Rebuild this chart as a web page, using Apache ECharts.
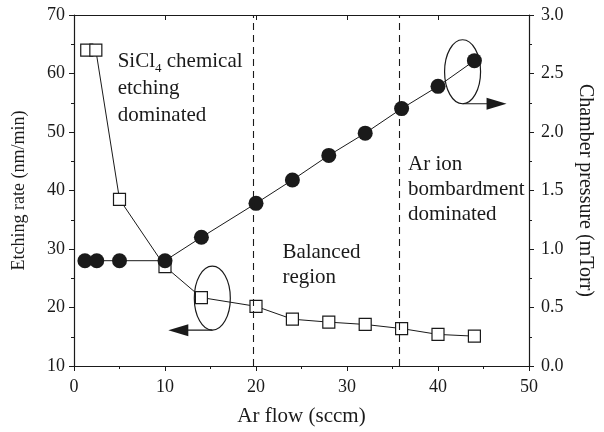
<!DOCTYPE html>
<html lang="en">
<head>
    <meta charset="UTF-8">
    <title>Etching rate and chamber pressure vs Ar flow</title>
    <script src="https://cdn.jsdelivr.net/npm/echarts@6.0.0/dist/echarts.min.js"></script>
    <style>
        html, body { margin: 0; padding: 0; background: #fff; }
    </style>
</head>
<body>
<div id="chart1" style="width: 604px;height:432px;"></div>

<script>
    // values
    var etchFlow = [1.4, 2.4, 5, 10, 14, 20, 24, 28, 32, 36, 40, 44];
    var etchRate = [64, 64, 38.5, 27, 21.7, 20.2, 18, 17.5, 17.1, 16.4, 15.4, 15.1];
    var pressFlow = [1.2, 2.5, 5, 10, 14, 20, 24, 28, 32, 36, 40, 44];
    var pressure = [0.9, 0.9, 0.9, 0.9, 1.1, 1.39, 1.59, 1.8, 1.99, 2.2, 2.39, 2.61];
    var regionBounds = [19.7, 35.7];

    var font = 'Liberation Serif';
    var ink = '#1a1a1a';

    var chartDom = document.getElementById('chart1');
    var myChart = echarts.init(chartDom);

    function axisBase() {
        return {
            type: 'value',
            axisLine: { show: true, onZero: false, lineStyle: { color: ink, width: 1.2 } },
            axisTick: { show: true, inside: false, length: 5, lineStyle: { color: ink } },
            minorTick: { show: true, splitNumber: 2, length: 3, lineStyle: { color: ink } },
            splitLine: { show: false },
            axisLabel: { fontFamily: font, fontSize: 18, color: ink, margin: 9 },
            nameTextStyle: { fontFamily: font, fontSize: 19, color: ink }
        };
    }

    var xBottom = Object.assign(axisBase(), {
        position: 'bottom', min: 0, max: 50, interval: 10,
        name: 'Ar flow (sccm)', nameLocation: 'middle', nameGap: 40
    });
    xBottom.axisLabel.margin = 12;
    xBottom.nameTextStyle.fontSize = 21;
    var xTop = Object.assign(axisBase(), {
        position: 'top', min: 0, max: 50, interval: 10
    });
    xTop.axisLabel = { show: false };
    xTop.axisTick = { show: true, inside: true, length: 5, lineStyle: { color: ink } };
    xTop.minorTick = { show: false };

    var yLeft = Object.assign(axisBase(), {
        position: 'left', min: 10, max: 70, interval: 10,
        name: 'Etching rate (nm/min)', nameLocation: 'middle', nameGap: 46
    });
    yLeft.nameTextStyle.fontSize = 18;
    var yRight = Object.assign(axisBase(), {
        position: 'right', min: 0, max: 3, interval: 0.5,
        name: 'Chamber pressure (mTorr)', nameLocation: 'middle', nameGap: 46,
        nameRotate: -90
    });
    yRight.axisLabel.margin = 12;
    yRight.nameTextStyle.fontSize = 20;
    yRight.axisLabel.formatter = function (v) { return v.toFixed(1); };

    var option = {
        backgroundColor: '#fff',
        animation: false,
        grid: { left: 74, right: 75, top: 15, bottom: 66 },
        xAxis: [xBottom, xTop],
        yAxis: [yLeft, yRight],
        series: [
            {
                name: 'Etching rate',
                type: 'line',
                xAxisIndex: 0,
                yAxisIndex: 0,
                data: etchFlow.map(function (x, i) { return [x, etchRate[i]]; }),
                symbol: 'rect',
                symbolSize: 12,
                lineStyle: { color: ink, width: 1 },
                itemStyle: { color: '#fff', borderColor: ink, borderWidth: 1.2 },
                z: 3,
                markLine: {
                    silent: true,
                    symbol: 'none',
                    label: { show: false },
                    lineStyle: { color: ink, type: [7, 5], width: 1.1 },
                    data: regionBounds.map(function (x) { return { xAxis: x }; })
                }
            },
            {
                name: 'Chamber pressure',
                type: 'line',
                xAxisIndex: 0,
                yAxisIndex: 1,
                data: pressFlow.map(function (x, i) { return [x, pressure[i]]; }),
                symbol: 'circle',
                symbolSize: 15,
                lineStyle: { color: ink, width: 1 },
                itemStyle: { color: ink },
                z: 4
            }
        ]
    };
    myChart.setOption(option);

    // annotations, anchored in data coordinates (left axis)
    function px(x, y) {
        return myChart.convertToPixel({ xAxisIndex: 0, yAxisIndex: 0 }, [x, y]);
    }
    var textStyleBase = { fontFamily: font, fontSize: 21, fill: ink };

    function note(x, y, text, lh) {
        var p = px(x, y);
        return {
            type: 'text', x: p[0], y: p[1], z: 10,
            style: Object.assign({}, textStyleBase, {
                text: text, lineHeight: lh, verticalAlign: 'top',
                rich: {
                    sub: { fontFamily: font, fontSize: 13, fill: ink, verticalAlign: 'bottom', padding: [10, 0, 0, 0] }
                }
            })
        };
    }

    function pointer(cx, cy, dir) {
        var c = px(cx, cy);
        var rx = 18, ry = 32;
        var by = c[1] + ry;
        var tip = c[0] + dir * 44;
        return [
            { type: 'ellipse', shape: { cx: c[0], cy: c[1], rx: rx, ry: ry },
              style: { fill: 'none', stroke: ink, lineWidth: 1.2 }, z: 10 },
            { type: 'line', shape: { x1: c[0], y1: by, x2: tip - dir * 10, y2: by },
              style: { stroke: ink, lineWidth: 1.2 }, z: 10 },
            { type: 'polygon', shape: { points: [[tip, by], [tip - dir * 20, by - 6], [tip - dir * 20, by + 6]] },
              style: { fill: ink }, z: 10 }
        ];
    }

    var graphics = [
        note(4.8, 64.3, 'SiCl{sub|4} chemical\netching\ndominated', 27),
        note(22.9, 31.6, 'Balanced\nregion', 25),
        note(36.7, 46.5, 'Ar ion\nbombardment\ndominated', 25)
    ].concat(pointer(15.2, 21.6, -1), pointer(42.7, 60.3, 1));

    myChart.setOption({ graphic: graphics });
</script>
</body>
</html>
